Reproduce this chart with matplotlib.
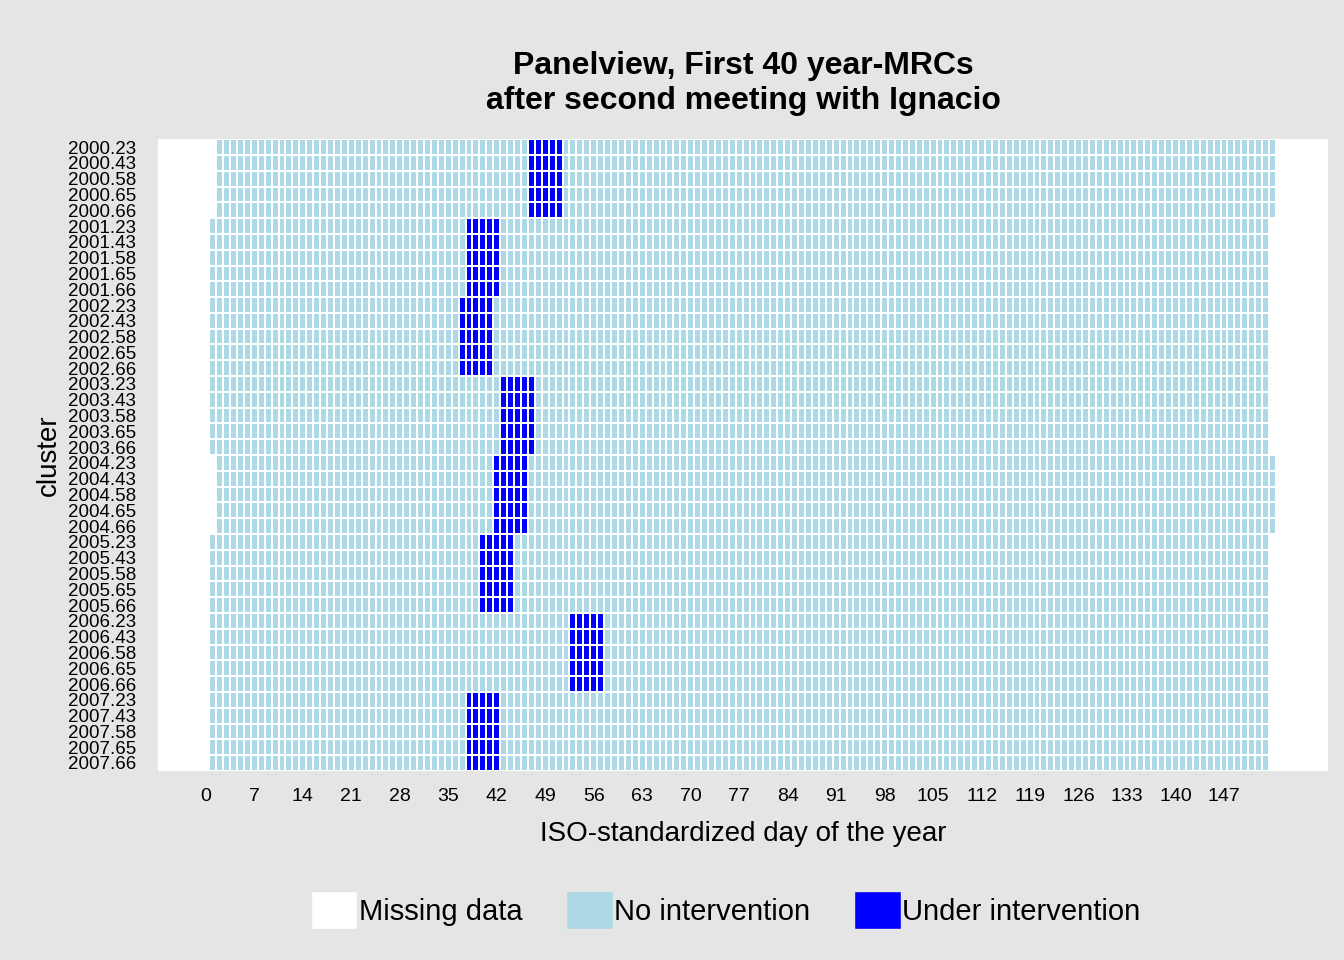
import matplotlib.pyplot as plt
import numpy as np
from matplotlib.colors import ListedColormap
from matplotlib.patches import Patch

plt.rcParams["font.family"] = ["Liberation Sans", "DejaVu Sans"]

years = [2000, 2001, 2002, 2003, 2004, 2005, 2006, 2007]
suffixes = [".23", ".43", ".58", ".65", ".66"]
first_day = [2, 1, 1, 1, 2, 1, 1, 1]
last_day = [154, 153, 153, 153, 154, 153, 153, 153]
treat_start = [47, 38, 37, 43, 42, 40, 53, 38]
treat_end = [51, 42, 41, 47, 46, 44, 57, 42]

days = np.arange(0, 156)
labels = []
rows = []
for y, f, l, ts, te in zip(years, first_day, last_day, treat_start, treat_end):
    for s in suffixes:
        labels.append(f"{y}{s}")
        r = np.zeros(len(days))
        r[(days >= f) & (days <= l)] = 1
        r[(days >= ts) & (days <= te)] = 2
        rows.append(r)
Z = np.array(rows)

fig = plt.figure(figsize=(13.44, 9.6), dpi=100, facecolor="#E5E5E5")
ax = fig.add_axes([0.1176, 0.197, 0.8704, 0.658])
cmap = ListedColormap(["white", "lightblue", "blue"])
Zm = np.ma.masked_where(Z == 0, Z)
ax.pcolormesh(np.append(days, days[-1] + 1) - 0.5, np.arange(len(labels) + 1) - 0.5,
              Zm, cmap=cmap, vmin=0, vmax=2, edgecolors="white", linewidth=0.25)
ax.set_xlim(-6.9, 162)
ax.set_ylim(len(labels) - 0.5, -0.5)
ax.set_xticks(np.arange(0, 148, 7))
ax.set_yticks(np.arange(len(labels)))
ax.set_yticklabels(labels, fontsize=13.5)
ax.tick_params(axis="x", labelsize=14, length=0, pad=12)
ax.tick_params(axis="y", length=0, pad=16)
for sp in ax.spines.values():
    sp.set_visible(False)
ax.set_xlabel("ISO-standardized day of the year", fontsize=20, labelpad=12)
ax.set_ylabel("cluster", fontsize=20, labelpad=4)
ax.set_title("Panelview, First 40 year-MRCs\nafter second meeting with Ignacio",
             fontsize=23, fontweight="bold", pad=22)

handles = [Patch(facecolor=c, edgecolor="#E5E5E5") for c in ["white", "lightblue", "blue"]]
fig.legend(handles, ["Missing data", "No intervention", "Under intervention"],
           loc="center", bbox_to_anchor=(0.54, 0.052), ncol=3, frameon=False,
           fontsize=21, handlelength=1.6, handleheight=1.6, handletextpad=0.05,
           columnspacing=1.5)
fig.savefig("out.png", dpi=100, facecolor=fig.get_facecolor())
